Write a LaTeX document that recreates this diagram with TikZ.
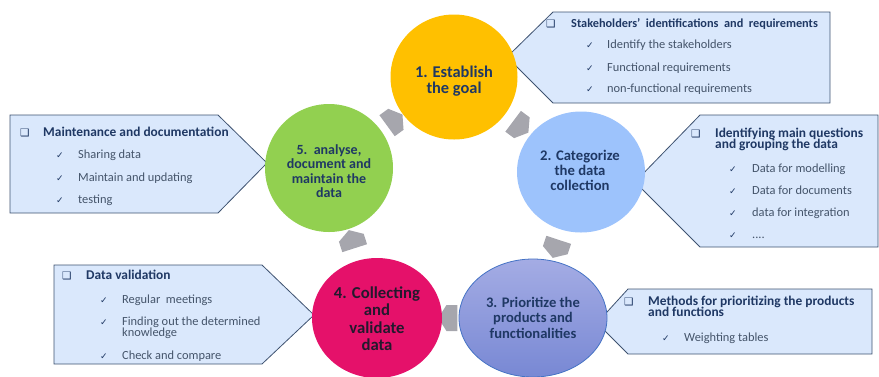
\documentclass[tikz,border=0pt]{standalone}
\usepackage{fontspec}
\setmainfont{Carlito}
\newfontfamily\symfont{DejaVu Sans}
\usetikzlibrary{shapes.geometric,shapes.symbols}

\definecolor{goalyellow}{RGB}{255,192,0}
\definecolor{catblue}{RGB}{157,195,252}
\definecolor{priotop}{RGB}{164,172,228}
\definecolor{priobot}{RGB}{120,136,212}
\definecolor{prioline}{RGB}{68,114,196}
\definecolor{collpink}{RGB}{229,17,106}
\definecolor{anagreen}{RGB}{146,208,80}
\definecolor{boxfill}{RGB}{218,232,252}
\definecolor{boxline}{RGB}{62,82,112}
\definecolor{navy}{RGB}{31,56,100}
\definecolor{slate}{RGB}{68,84,106}
\definecolor{darkink}{RGB}{35,25,45}
\definecolor{arrowgray}{RGB}{166,166,173}

\newcommand{\fourdots}{....}

\tikzset{
  stage/.style={ellipse, inner sep=0pt},
  stagetxt/.style={anchor=base, align=center, inner sep=0pt, text=navy},
  callout/.style={fill=boxfill, draw=boxline, line width=0.8pt, line join=miter},
  boxhead/.style={anchor=base west, align=left, inner sep=0pt, text=navy,
    font=\bfseries\fontsize{13.4}{11.8}\selectfont},
  boxitem/.style={anchor=base west, align=left, inner sep=0pt, text=slate,
    font=\fontsize{12.4}{11}\selectfont},
  sqbullet/.style={anchor=base west, inner sep=0pt, text=navy,
    font=\symfont\fontsize{10.5}{10}\selectfont},
  tick/.style={anchor=base west, inner sep=0pt, text=navy,
    font=\symfont\fontsize{9}{9}\selectfont},
  flow/.style={signal, signal to=east, signal from=nowhere, signal pointer angle=116,
    fill=arrowgray, minimum width=19pt, minimum height=26pt, inner sep=0pt,
    sloped, allow upside down}
}

\begin{document}
\begin{tikzpicture}[x=1pt,y=-1pt]
\useasboundingbox (0,0) rectangle (879,376);

% call-outs (multi-line texts sit on their last base line)
\draw[callout] (553,12) -- (830,12) -- (830,103) -- (553,103) -- (507,57) -- cycle;
\node[sqbullet] (q1) at (546,27) {❑};
\node[boxhead, font=\bfseries\fontsize{12.3}{11.8}\selectfont] (h1) at (571,27) {Stakeholders’\ \ identifications\ \ and\ \ requirements};
\foreach \t/\y [count=\i] in {Identify the stakeholders/48, Functional requirements/71, non-functional requirements/92}
  {\node[tick] (k1\i) at (586,\y) {✓}; \node[boxitem] (i1\i) at (607,\y) {\t};}

\draw[callout] (700,115) -- (878,115) -- (878,247) -- (700,247) -- (635,182) -- cycle;
\node[sqbullet] (q2) at (691,137) {❑};
\node[boxhead] (h2) at (715,148.8) {Identifying main questions\\and grouping the data};
\foreach \t/\y [count=\i] in {Data for modelling/172, Data for documents/194, data for integration/216, \fourdots/238}
  {\node[tick] (k2\i) at (729,\y) {✓}; \node[boxitem] (i2\i) at (752,\y) {\t};}

\draw[callout] (628,289) -- (872,289) -- (872,354) -- (628,354) -- (597,323) -- cycle;
\node[sqbullet] (q3) at (624,305) {❑};
\node[boxhead] (h3) at (648,316.8) {Methods for prioritizing the products\\and functions};
\node[tick] (k31) at (662,341) {✓};
\node[boxitem] (i31) at (684,341) {Weighting tables};

\draw[callout] (54,265) -- (262,265) -- (314,315) -- (262,364) -- (54,364) -- cycle;
\node[sqbullet] (q4) at (62,279) {❑};
\node[boxhead] (h4) at (86,279) {Data validation};
\foreach \t/\y/\ty [count=\i] in {Regular\ \ meetings/303/303, {Finding out the determined\\knowledge}/336/325, Check and compare/359/359}
  {\node[tick] (k4\i) at (100,\ty) {✓}; \node[boxitem] (i4\i) at (122,\y) {\t};}

\draw[callout] (10,115) -- (218,115) -- (267,163) -- (218,213) -- (10,213) -- cycle;
\node[sqbullet] (q5) at (20,136) {❑};
\node[boxhead] (h5) at (43,136) {Maintenance and documentation};
\foreach \t/\y [count=\i] in {Sharing data/158, Maintain and updating/181, testing/203}
  {\node[tick] (k5\i) at (56,\y) {✓}; \node[boxitem] (i5\i) at (78,\y) {\t};}

% cycle
\coordinate (c1) at (454,77);
\coordinate (c2) at (581,172);
\coordinate (c3) at (533,318);
\coordinate (c4) at (377,318);
\coordinate (c5) at (329,168);
\path (c1) -- node[flow] (a12) {} (c2);
\path (c2) -- node[flow] (a23) {} (c3);
\path (c3) -- node[flow, pos=0.52] (a34) {} (c4);
\path (c4) -- node[flow] (a45) {} (c5);
\path (c5) -- node[flow] (a51) {} (c1);

\node[stage, fill=goalyellow, minimum width=127pt, minimum height=125pt] (s1) at (c1) {};
\node[stage, fill=catblue, minimum width=128pt, minimum height=121pt] (s2) at (c2) {};
\node[stage, top color=priotop, bottom color=priobot, draw=prioline, line width=0.8pt,
  minimum width=148pt, minimum height=118pt] (s3) at (c3) {};
\node[stage, fill=collpink, minimum width=130pt, minimum height=120pt] (s4) at (c4) {};
\node[stage, fill=anagreen, minimum width=128pt, minimum height=128pt] (s5) at (c5) {};

\node[stagetxt, font=\bfseries\fontsize{16.4}{16.7}\selectfont] (t1) at (454,93.7) {1. Establish\\the goal};
\node[stagetxt, font=\bfseries\fontsize{14.7}{15}\selectfont] (t2) at (580,190) {2. Categorize\\the data\\collection};
\node[stagetxt, font=\bfseries\fontsize{14.6}{15.5}\selectfont] (t3) at (533,338) {3. Prioritize the\\products and\\functionalities};
\node[stagetxt, text=darkink, font=\bfseries\fontsize{16.7}{17.6}\selectfont] (t4) at (377,350.8) {4. Collecting\\and\\validate\\data};
\node[stagetxt, font=\bfseries\fontsize{14}{14.5}\selectfont] (t5) at (329,197.5) {5.\ \ analyse,\\document and\\maintain the\\data};

\end{tikzpicture}
\end{document}
